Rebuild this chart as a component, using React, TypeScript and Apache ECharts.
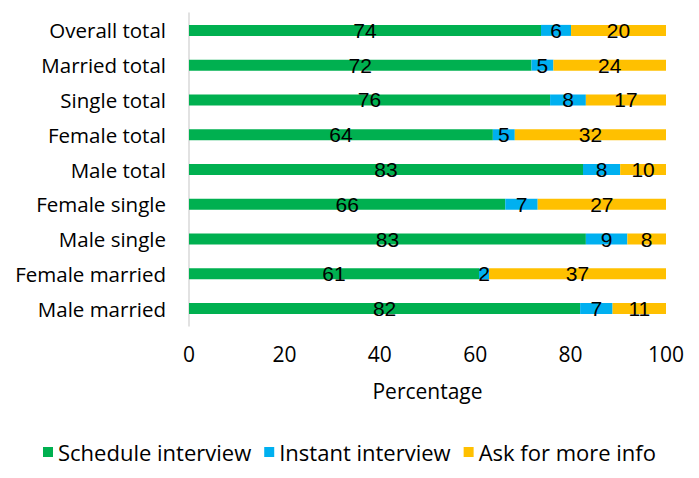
import React, { useEffect, useRef } from "react";
import * as echarts from "echarts";

const categories = [
  "Male married",
  "Female married",
  "Male single",
  "Female single",
  "Male total",
  "Female total",
  "Single total",
  "Married total",
  "Overall total",
];
const schedule = [82.0, 60.8, 83.2, 66.3, 82.6, 63.7, 75.7, 71.8, 73.8];
const instant = [6.8, 2.1, 8.7, 6.8, 7.8, 4.6, 7.5, 4.6, 6.3];
const askMore = [11.2, 37.1, 8.1, 26.9, 9.6, 31.7, 16.8, 23.6, 19.9];
const xTicks = [0, 20, 40, 60, 80, 100];

const FONT = "Open Sans";

export default function App() {
  const ref = useRef<HTMLDivElement>(null);
  useEffect(() => {
    if (!ref.current) return;
    const chart = echarts.init(ref.current, null, { renderer: "svg" });
    const label = {
      show: true,
      position: "inside",
      color: "#000",
      fontSize: 21,
      fontFamily: "Liberation Sans",
      formatter: (p: any) => String(Math.round(p.value)),
    };
    const mk = (name: string, data: number[], color: string) => ({
      name,
      type: "bar",
      stack: "total",
      data,
      barWidth: 11,
      itemStyle: { color },
      label,
    });
    chart.setOption({
      animation: false,
      textStyle: { fontFamily: FONT },
      grid: { left: 189, right: 33, top: 13, height: 313 },
      xAxis: {
        type: "value",
        min: xTicks[0],
        max: xTicks[xTicks.length - 1],
        interval: 20,
        splitLine: { show: false },
        axisLine: { show: false },
        axisTick: { show: false },
        axisLabel: { fontSize: 21, color: "#000", margin: 17, fontFamily: FONT },
        name: "Percentage",
        nameLocation: "middle",
        nameGap: 54,
        nameTextStyle: { fontSize: 21, color: "#000", fontFamily: FONT },
      },
      yAxis: {
        type: "category",
        data: categories,
        axisLine: { show: true, lineStyle: { color: "#d9d9d9", width: 1.5 } },
        axisTick: { show: false },
        axisLabel: { fontSize: 20.5, color: "#000", margin: 23, fontFamily: FONT },
      },
      legend: {
        bottom: 10,
        left: "center",
        icon: "rect",
        itemWidth: 10,
        itemHeight: 10,
        itemGap: 13,
        itemStyle: { borderWidth: 0 },
        textStyle: { fontSize: 22, color: "#000", fontFamily: FONT },
        data: ["Schedule interview", "Instant interview", "Ask for more info"],
      },
      series: [
        mk("Schedule interview", schedule, "#00b050"),
        mk("Instant interview", instant, "#00b0f0"),
        mk("Ask for more info", askMore, "#ffc000"),
      ],
    });
    return () => chart.dispose();
  }, []);
  return <div ref={ref} style={{ width: 699, height: 478, margin: -8 }} />;
}
